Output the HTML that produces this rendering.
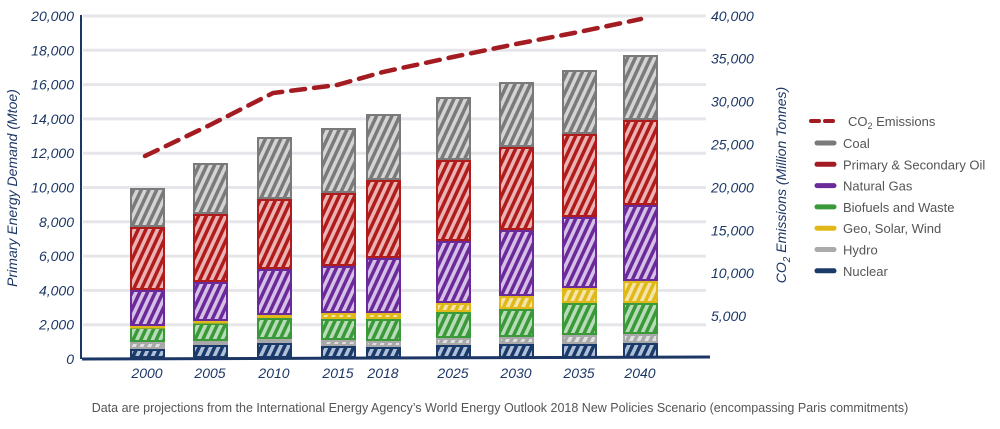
<!DOCTYPE html>
<html><head><meta charset="utf-8"><style>
body{margin:0;background:#fff;}
svg{display:block;font-family:"Liberation Sans",sans-serif;}
.ax{fill:#1c3766;font-size:14px;font-style:italic;}
.lg{fill:#555;font-size:13px;}
</style></head><body>
<svg id="s" width="1000" height="429" viewBox="0 0 1000 429" xmlns="http://www.w3.org/2000/svg">
<defs id="d"></defs>
<g id="grid"></g>
<g id="bars"></g>
<line x1="81" y1="15" x2="81" y2="359" stroke="#1c3766" stroke-width="2"/>
<path d="M82 359 L710 357" stroke="#1c3766" stroke-width="3" fill="none"/>
<polyline points="145,156 210,125 273,93 337,85 383,72 453,57 516,44 579,32 641,19" fill="none" stroke="#a31c22" stroke-width="4.5" stroke-dasharray="14,9" stroke-linecap="round"/>
<g id="labels"></g>
<text class="ax" transform="translate(17,188) rotate(-90)" text-anchor="middle">Primary Energy Demand (Mtoe)</text>
<text class="ax" transform="translate(786,185) rotate(-90)" text-anchor="middle">CO<tspan font-size="10" dy="4">2</tspan><tspan dy="-4"> Emissions (Million Tonnes)</tspan></text>
<g id="legend"></g>
<text x="500" y="412" text-anchor="middle" fill="#555" font-size="12.5">Data are projections from the International Energy Agency’s World Energy Outlook 2018 New Policies Scenario (encompassing Paris commitments)</text>
</svg>
<script>
var ns="http://www.w3.org/2000/svg";
function el(t,a,p,txt){var e=document.createElementNS(ns,t);for(var k in a)e.setAttribute(k,a[k]);if(txt)e.textContent=txt;document.getElementById(p).appendChild(e);return e;}
var C=[["nuc","#1a3a6a","#b0c0d8"],["hyd","#a8a8a8","#e0e0e0"],["bio","#3a9a3a","#b8dcb8"],["geo","#e0b818","#f4e4a8"],["gas","#6a2a9a","#d6c0e6"],["oil","#b01c1c","#eab4b4"],["coal","#7a7a7a","#d4d4d4"]];
C.forEach(function(c){var p=el("pattern",{id:"p"+c[0],width:"7",height:"7",patternUnits:"userSpaceOnUse",patternTransform:"rotate(25)"},"d");
el("rect",{width:"7",height:"7",fill:c[1]},"p"+c[0]).parentNode;
var pp=document.getElementById("p"+c[0]);var r=document.createElementNS(ns,"rect");r.setAttribute("width","3.5");r.setAttribute("height","7");r.setAttribute("fill",c[2]);pp.appendChild(r);});
// grid
for(var i=0;i<=10;i++){var y=359-i*34.3;if(i>0)el("line",{x1:83,y1:y,x2:706,y2:y,stroke:"#e6e6ea","stroke-width":3},"grid");
el("text",{x:74,y:y+5,"text-anchor":"end","class":"ax"},"labels",(i*2000).toLocaleString("en-US"));}
for(var i=1;i<=8;i++){var y=359-i*42.9;el("text",{x:711,y:y+5,"class":"ax"},"labels",(i*5000).toLocaleString("en-US"));}
// bars: x, boundaries from base: [base, nuc/hyd, hyd/bio, bio/geo, geo/gas, gas/oil, oil/coal, top]
var B=[[130,"2000",[358,349,342,327,326,290,227,188]],
[193,"2005",[358,345,341,323,321,282,214,163]],
[257,"2010",[358,343,339,318,315,269,199,137]],
[321,"2015",[358,346,340,319,313,266,193,128]],
[366,"2018",[358,347,341,319,313,258,180,114]],
[436,"2025",[358,345,338,312,303,241,160,97]],
[499,"2030",[358,344,337,309,296,230,147,82]],
[562,"2035",[358,344,335,303,288,217,134,70]],
[623,"2040",[358,343,334,303,281,205,120,55]]];
B.forEach(function(b){var x=b[0],v=b[2];for(var k=0;k<7;k++){var y1=v[k+1],y0=v[k];
el("rect",{x:x+1,y:y1+1,width:33,height:Math.max(y0-y1-2,0.5),fill:"url(#p"+C[k][0]+")",stroke:C[k][1],"stroke-width":2},"bars");}
el("text",{x:x+17,y:378,"text-anchor":"middle","class":"ax"},"labels",b[1]);});
// legend
var L=[["Coal","#7a7a7a"],["Primary & Secondary Oil","#a31c22"],["Natural Gas","#6a2a9a"],["Biofuels and Waste","#3a9a3a"],["Geo, Solar, Wind","#e0b818"],["Hydro","#aaaaaa"],["Nuclear","#1a3a6a"]];
el("line",{x1:811,y1:121,x2:837,y2:121,stroke:"#a31c22","stroke-width":4,"stroke-dasharray":"8,6","stroke-linecap":"round"},"legend");
var t=el("text",{x:848,y:126,"class":"lg"},"legend");t.innerHTML='CO<tspan font-size="9" dy="3">2</tspan><tspan dy="-3"> Emissions</tspan>';
L.forEach(function(l,i){var y=143+i*21.3;el("line",{x1:817,y1:y,x2:834,y2:y,stroke:l[1],"stroke-width":5,"stroke-linecap":"round"},"legend");
el("text",{x:843,y:y+5,"class":"lg"},"legend",l[0]);});
</script>
</body></html>
